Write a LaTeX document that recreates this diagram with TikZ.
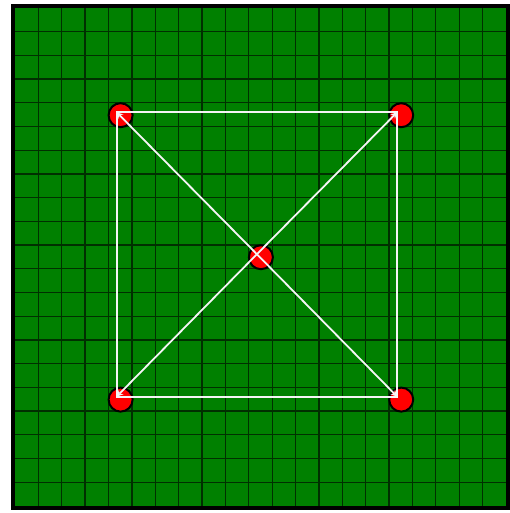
\documentclass[tikz,border=0pt]{standalone}
\usepackage{xcolor}
\definecolor{field-green}{RGB}{0,128,0}
\definecolor{grid-green}{RGB}{0,48,0}
\usetikzlibrary{arrows}
\tikzset{
  spot/.style={circle,fill=red,draw=black,line width=2pt,minimum size=24pt,inner sep=0pt},
  link/.style={white!92!gray,line width=1.8pt},
  tip/.style={shift={(-4,-3)}},
}

\begin{document}
\begin{tikzpicture}[x=1pt,y=-1pt]
\useasboundingbox (0,0) rectangle (510,513);
\fill[field-green] (13,6) rectangle (508,508);
%grid, 21 x 21 cells
\foreach \i in {1,...,20} {
  \draw[grid-green,line width=1.3pt] ({15+\i*23.38},8) -- ({15+\i*23.38},506);
  \draw[grid-green,line width=1.3pt] (15,{8+\i*23.71}) -- (506,{8+\i*23.71});
}
\draw[black,line width=4pt] (13,6) rectangle (508,508);
\node[spot] (tl) at (120.6,115.2) {};
\node[spot] (tr) at (401.2,115.2) {};
\node[spot] (bl) at (120.6,399.6) {};
\node[spot] (br) at (401.2,399.6) {};
\node[spot] (c) at (260.9,257.2) {};
\draw[link] ([tip]tl.center) -- ([tip]tr.center) -- ([tip]br.center) -- ([tip]bl.center) -- cycle;
\draw[link,->,>=stealth] ([tip]c.center) -- ([tip]tl.center);
\draw[link,->,>=stealth] ([tip]c.center) -- ([tip]tr.center);
\draw[link,->,>=stealth] ([tip]c.center) -- ([tip]bl.center);
\draw[link,->,>=stealth] ([tip]c.center) -- ([tip]br.center);
\end{tikzpicture}
\end{document}
